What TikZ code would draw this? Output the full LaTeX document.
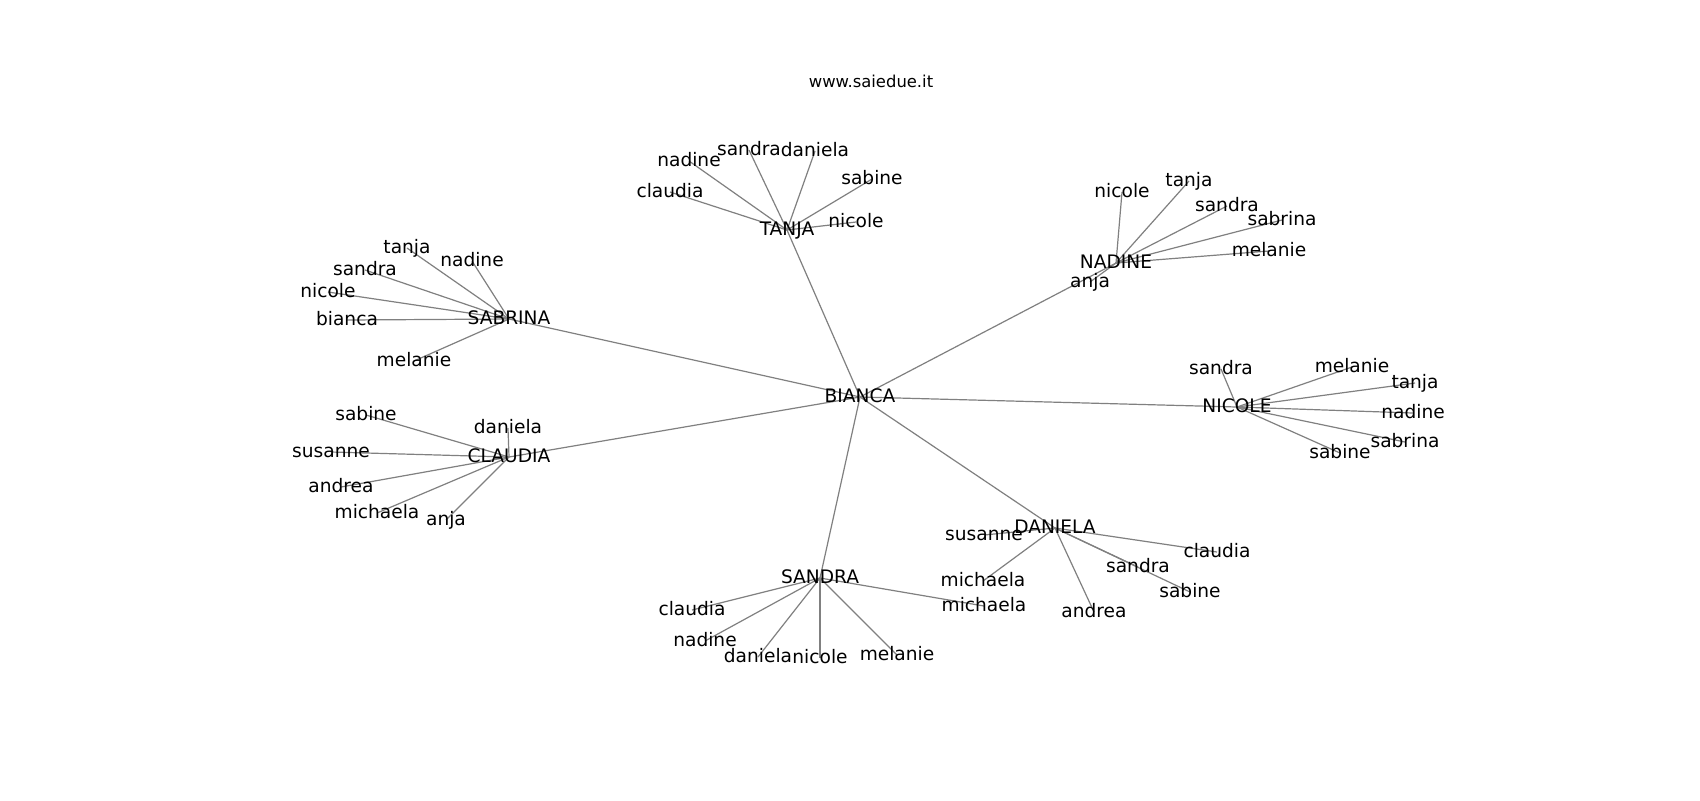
\documentclass[tikz,border=0pt]{standalone}
\usepackage{fontspec}
\setmainfont{DejaVu Sans}
\usetikzlibrary{backgrounds}
\tikzset{
  lbl/.style={inner sep=0pt, outer sep=0pt, anchor=center, text height=0.73em, text depth=0.19em,
    font=\fontsize{9.3}{11}\selectfont, text=black},
  edge/.style={draw=black!50, line width=0.6pt},
  ttl/.style={inner sep=0pt, anchor=base, font=\fontsize{8.2}{10}\selectfont}
}
\begin{document}
\begin{tikzpicture}[x=0.5pt,y=-0.5pt]
\useasboundingbox (0,0) rectangle (1700,800);
\node[ttl] (title) at (871,87) {www.saiedue.it};
% hubs
\node[lbl] (B) at (860,397) {BIANCA};
\node[lbl] (T) at (787,230) {TANJA};
\node[lbl] (N) at (1116,263) {NADINE};
\node[lbl] (SB) at (509,319) {SABRINA};
\node[lbl] (C) at (509,457) {CLAUDIA};
\node[lbl] (NI) at (1237,407) {NICOLE};
\node[lbl] (D) at (1055,528) {DANIELA};
\node[lbl] (S) at (820,578) {SANDRA};
% TANJA leaves
\node[lbl] (t1) at (670,192) {claudia};
\node[lbl] (t2) at (689,161) {nadine};
\node[lbl] (t3) at (749,150) {sandra};
\node[lbl] (t4) at (815,151) {daniela};
\node[lbl] (t5) at (872,179) {sabine};
\node[lbl] (t6) at (856,222) {nicole};
% NADINE leaves
\node[lbl] (n1) at (1122,192) {nicole};
\node[lbl] (n2) at (1189,181) {tanja};
\node[lbl] (n3) at (1227,206) {sandra};
\node[lbl] (n4) at (1282,220) {sabrina};
\node[lbl] (n5) at (1269,251) {melanie};
\node[lbl] (n6) at (1090,282) {anja};
% SABRINA leaves
\node[lbl] (s1) at (407,248) {tanja};
\node[lbl] (s2) at (472,261) {nadine};
\node[lbl] (s3) at (365,270) {sandra};
\node[lbl] (s4) at (328,292) {nicole};
\node[lbl] (s5) at (347,320) {bianca};
\node[lbl] (s6) at (414,361) {melanie};
% CLAUDIA leaves
\node[lbl] (c1) at (366,415) {sabine};
\node[lbl] (c2) at (508,428) {daniela};
\node[lbl] (c3) at (331,452) {susanne};
\node[lbl] (c4) at (341,487) {andrea};
\node[lbl] (c5) at (377,513) {michaela};
\node[lbl] (c6) at (446,520) {anja};
% NICOLE leaves
\node[lbl] (i1) at (1221,369) {sandra};
\node[lbl] (i2) at (1352,367) {melanie};
\node[lbl] (i3) at (1415,383) {tanja};
\node[lbl] (i4) at (1413,413) {nadine};
\node[lbl] (i5) at (1405,442) {sabrina};
\node[lbl] (i6) at (1340,453) {sabine};
% DANIELA leaves
\node[lbl] (d1) at (984,535) {susanne};
\node[lbl] (d2) at (1217,552) {claudia};
\node[lbl] (d3) at (1138,567) {sandra};
\node[lbl] (d4) at (1190,592) {sabine};
\node[lbl] (d5) at (983,581) {michaela};
\node[lbl] (d6) at (1094,612) {andrea};
% SANDRA leaves
\node[lbl] (a1) at (692,610) {claudia};
\node[lbl] (a2) at (705,641) {nadine};
\node[lbl] (a3) at (758,657) {daniela};
\node[lbl] (a4) at (820,658) {nicole};
\node[lbl] (a5) at (897,655) {melanie};
\node[lbl] (a6) at (984,606) {michaela};
\begin{scope}[on background layer]
\fill[white] (0,0) rectangle (1700,800);
\foreach \h in {T,N,SB,C,NI,D,S} \draw[edge] (B.center) -- (\h.center);
\foreach \l in {t1,t2,t3,t4,t5,t6} \draw[edge] (T.center) -- (\l.center);
\foreach \l in {n1,n2,n3,n4,n5,n6} \draw[edge] (N.center) -- (\l.center);
\foreach \l in {s1,s2,s3,s4,s5,s6} \draw[edge] (SB.center) -- (\l.center);
\foreach \l in {c1,c2,c3,c4,c5,c6} \draw[edge] (C.center) -- (\l.center);
\foreach \l in {i1,i2,i3,i4,i5,i6} \draw[edge] (NI.center) -- (\l.center);
\foreach \l in {d1,d2,d3,d4,d5,d6} \draw[edge] (D.center) -- (\l.center);
\foreach \l in {a1,a2,a3,a4,a5,a6} \draw[edge] (S.center) -- (\l.center);
\end{scope}
\end{tikzpicture}
\end{document}
